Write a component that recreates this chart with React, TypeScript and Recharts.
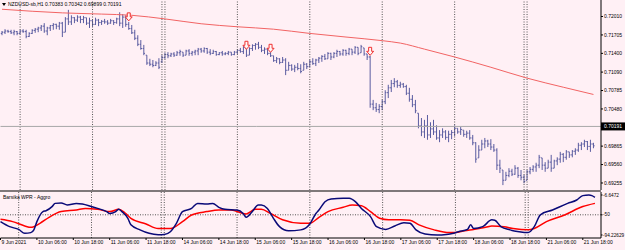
import React from "react";
import {
  ComposedChart,
  LineChart,
  Bar,
  Line,
  Scatter,
  XAxis,
  YAxis,
  ReferenceLine,
} from "recharts";

// NZDUSD H1 bars, prices in pips (x 0.0001)
const highs = [
  7177, 7180, 7179, 7179, 7179, 7177, 7179, 7180, 7179, 7175,
  7180, 7182, 7184, 7187, 7190, 7184, 7187, 7190, 7189, 7192,
  7192, 7200, 7212, 7203, 7200, 7203, 7202, 7202, 7199, 7199,
  7195, 7199, 7197, 7195, 7197, 7195, 7197, 7195, 7199, 7208,
  7205, 7203, 7192, 7187, 7179, 7170, 7162, 7154, 7137, 7131,
  7129, 7127, 7132, 7137, 7141, 7142, 7141, 7142, 7144, 7146,
  7142, 7146, 7147, 7144, 7146, 7149, 7149, 7150, 7149, 7147,
  7146, 7144, 7142, 7144, 7142, 7144, 7142, 7144, 7147, 7149,
  7152, 7149, 7150, 7155, 7157, 7159, 7154, 7150, 7149, 7142,
  7136, 7134, 7132, 7134, 7132, 7126, 7122, 7121, 7124, 7122,
  7126, 7124, 7129, 7132, 7131, 7134, 7137, 7139, 7142, 7141,
  7142, 7146, 7144, 7147, 7146, 7149, 7147, 7152, 7150, 7154,
  7149, 7139, 7136, 7063, 7058, 7056, 7063, 7079, 7088, 7096,
  7099, 7096, 7093, 7091, 7088, 7083, 7071, 7063, 7041, 7033,
  7030, 7038, 7026, 7030, 7021, 7013, 7016, 7013, 7012, 7013,
  7021, 7016, 7018, 7013, 7012, 7013, 7005, 6993, 6988, 6997,
  7000, 6997, 6998, 6990, 6983, 6964, 6947, 6944, 6950, 6949,
  6955, 6952, 6947, 6939, 6947, 6952, 6955, 6959, 6972, 6967,
  6960, 6964, 6972, 6964, 6968, 6977, 6975, 6980, 6977, 6980,
  6983, 6992, 6993, 6997, 6995, 6997, 6992,
];
const lows = [
  7170, 7172, 7174, 7172, 7170, 7170, 7172, 7174, 7165, 7167,
  7172, 7174, 7175, 7177, 7174, 7170, 7177, 7179, 7180, 7179,
  7167, 7175, 7187, 7187, 7190, 7192, 7190, 7190, 7187, 7182,
  7184, 7187, 7185, 7187, 7189, 7187, 7189, 7187, 7189, 7185,
  7182, 7184, 7179, 7172, 7162, 7152, 7146, 7137, 7121, 7119,
  7117, 7119, 7114, 7124, 7131, 7132, 7134, 7134, 7136, 7136,
  7134, 7137, 7136, 7136, 7137, 7137, 7141, 7141, 7139, 7137,
  7139, 7136, 7137, 7136, 7137, 7137, 7136, 7137, 7139, 7141,
  7139, 7134, 7137, 7144, 7146, 7147, 7142, 7139, 7137, 7134,
  7126, 7124, 7122, 7124, 7104, 7112, 7111, 7109, 7112, 7107,
  7112, 7114, 7117, 7121, 7119, 7124, 7126, 7129, 7131, 7129,
  7132, 7134, 7136, 7136, 7136, 7137, 7137, 7139, 7137, 7141,
  7136, 7129, 7050, 7046, 7043, 7041, 7046, 7056, 7066, 7076,
  7084, 7083, 7083, 7083, 7071, 7060, 7051, 7041, 7016, 7003,
  7000, 6997, 7000, 7005, 6997, 6993, 7000, 6997, 6993, 6998,
  7003, 7007, 7005, 7002, 7000, 6997, 6988, 6959, 6967, 6980,
  6983, 6985, 6980, 6977, 6947, 6942, 6922, 6930, 6935, 6937,
  6939, 6934, 6930, 6925, 6930, 6940, 6944, 6944, 6950, 6947,
  6944, 6950, 6944, 6950, 6955, 6959, 6960, 6964, 6967, 6968,
  6972, 6977, 6980, 6985, 6980, 6977, 6983,
];
const opens = [
  7173, 7175, 7177, 7176, 7174, 7176, 7173, 7177, 7176, 7168,
  7173, 7178, 7180, 7182, 7185, 7177, 7182, 7186, 7188, 7185,
  7190, 7175, 7197, 7192, 7199, 7195, 7200, 7196, 7199, 7190,
  7194, 7188, 7195, 7191, 7193, 7192, 7190, 7194, 7191, 7197,
  7190, 7200, 7188, 7181, 7174, 7165, 7155, 7148, 7137, 7124,
  7122, 7120, 7124, 7126, 7133, 7138, 7136, 7139, 7137, 7141,
  7142, 7137, 7144, 7140, 7142, 7144, 7147, 7144, 7148, 7142,
  7140, 7143, 7138, 7141, 7139, 7140, 7142, 7138, 7142, 7145,
  7143, 7149, 7137, 7148, 7153, 7155, 7150, 7145, 7147, 7140,
  7136, 7128, 7131, 7125, 7129, 7112, 7120, 7114, 7117, 7115,
  7112, 7122, 7118, 7126, 7123, 7129, 7132, 7135, 7131, 7140,
  7134, 7140, 7143, 7139, 7145, 7140, 7147, 7142, 7150, 7141,
  7149, 7139, 7134, 7056, 7050, 7047, 7052, 7060, 7075, 7083,
  7090, 7093, 7087, 7089, 7085, 7074, 7064, 7055, 7041, 7020,
  7010, 7020, 7005, 7015, 7010, 7000, 7005, 7010, 7001, 7006,
  7009, 7016, 7010, 7013, 7006, 7008, 7000, 6992, 6967, 6980,
  6990, 6995, 6990, 6985, 6980, 6955, 6947, 6930, 6938, 6945,
  6940, 6950, 6938, 6935, 6930, 6944, 6948, 6952, 6955, 6967,
  6955, 6950, 6960, 6950, 6962, 6965, 6973, 6968, 6977, 6972,
  6978, 6980, 6988, 6990, 6994, 6986, 6990,
];
const closes = [
  7175, 7177, 7176, 7174, 7176, 7173, 7177, 7176, 7168, 7173,
  7178, 7180, 7182, 7185, 7177, 7182, 7186, 7188, 7185, 7190,
  7175, 7197, 7192, 7199, 7195, 7200, 7196, 7199, 7190, 7194,
  7188, 7195, 7191, 7193, 7192, 7190, 7194, 7191, 7197, 7190,
  7200, 7188, 7181, 7174, 7165, 7155, 7148, 7140, 7124, 7122,
  7120, 7124, 7117, 7133, 7138, 7136, 7139, 7137, 7141, 7143,
  7137, 7144, 7140, 7142, 7144, 7147, 7144, 7148, 7142, 7140,
  7143, 7138, 7141, 7139, 7140, 7142, 7138, 7142, 7145, 7143,
  7150, 7137, 7148, 7153, 7155, 7150, 7145, 7147, 7140, 7136,
  7128, 7131, 7125, 7129, 7112, 7120, 7114, 7117, 7115, 7110,
  7122, 7118, 7126, 7123, 7129, 7132, 7135, 7131, 7140, 7134,
  7140, 7143, 7139, 7145, 7140, 7147, 7142, 7150, 7140, 7151,
  7139, 7134, 7056, 7050, 7047, 7052, 7060, 7075, 7083, 7090,
  7093, 7087, 7089, 7085, 7074, 7064, 7055, 7045, 7020, 7010,
  7020, 7005, 7015, 7010, 7000, 7005, 7010, 7001, 7006, 7009,
  7016, 7010, 7014, 7006, 7008, 7000, 6992, 6965, 6980, 6990,
  6995, 6990, 6985, 6980, 6955, 6950, 6930, 6938, 6945, 6940,
  6950, 6938, 6935, 6928, 6944, 6948, 6952, 6955, 6968, 6955,
  6950, 6960, 6950, 6962, 6965, 6973, 6968, 6977, 6972, 6978,
  6980, 6988, 6990, 6994, 6986, 6990, 6987,
];

// moving average, read at these bars
const maBars = [0, 20, 33, 43, 54, 66, 78, 90, 102, 114, 126, 132, 140, 150, 162, 174, 186, 196];
const maValues = [7213, 7207, 7205, 7203, 7197, 7189, 7184, 7180, 7173, 7167, 7161, 7157, 7147, 7134, 7117, 7099, 7084, 7072];

// signal arrows (top of arrow)
const arrowBars = [42, 81, 89, 122];
const arrowValues = [7207, 7160, 7155, 7150];

// Barsika WPR - Aggro, fast (navy) and slow (red)
const fastBars = [
  0, 3, 6, 8, 10, 11, 12, 14, 15, 17, 18, 20, 22, 25, 27, 30, 32, 35, 36, 38,
  39, 40, 42, 43, 46, 49, 52, 54, 56, 58, 60, 63, 65, 68, 70, 72, 74, 78, 80, 81,
  83, 85, 86, 88, 90, 92, 95, 99, 102, 104, 105, 107, 109, 113, 115, 117, 119, 122, 124, 127,
  130, 133, 135, 137, 140, 144, 147, 149, 151, 154, 155, 156, 159, 162, 163, 165, 168, 171, 174, 176,
  178, 182, 187, 190, 192, 194, 195, 196,
];
const fastValues = [
  -65, -76, -82, -90.6, -89, -83, -65, -43, -41, -32, -25, -24, -28.5, -25, -26.4, -32, -36, -43, -47, -43,
  -38, -43, -57.7, -72, -83, -90.6, -93.5, -93, -87, -68.6, -43, -36, -25, -26.4, -25, -33.6, -38, -39.5, -47, -55.5,
  -43, -28.5, -28.5, -36, -57.7, -76, -85, -83, -70, -47, -39.5, -21.3, -15.4, -14, -14, -21.3, -36, -54, -76, -82,
  -74.5, -67.3, -68.6, -83, -92, -94.22629, -93, -91, -87, -82, -72, -80, -76, -61, -62, -76, -83, -87, -89, -76,
  -50, -39.5, -25, -17.6, -8, -6.6472, -8, -12,
];
const slowBars = [
  0, 4, 8, 10, 13, 16, 20, 25, 28, 32, 36, 39, 41, 43, 48, 52, 56, 60, 63, 68,
  72, 76, 81, 84, 86, 89, 93, 99, 102, 105, 108, 113, 116, 119, 122, 125, 128, 132, 135, 138,
  143, 148, 150, 153, 156, 160, 162, 166, 169, 174, 176, 180, 186, 192, 196,
];
const slowValues = [
  -60, -65, -74.5, -77.5, -68.6, -55.5, -43, -39.5, -36, -38, -43, -38, -45.5, -57.7, -70, -80, -80, -65, -50.4, -43,
  -39.5, -39.5, -48, -38, -38, -47, -61, -68.6, -68.6, -55.5, -43, -33.6, -28.5, -30, -43, -57.7, -61, -61, -62, -72,
  -83, -89, -89, -85, -82, -77.5, -74.5, -76, -80, -83, -80, -65, -50.4, -32, -25,
];

// axes
const priceTicks = [0.7201, 0.71705, 0.714, 0.7109, 0.70785, 0.7048, 0.69865, 0.6956, 0.69255];
const currentPrice = 0.70191;
const wprTicks = [-6.6472, -50, -94.22629];
const wprLabels = ["-6.6472", "-50", "-94.22629"];
const dayStarts = [6, 30, 53, 54, 78, 102, 126, 150, 173, 174];
const timeBars = [0, 12, 24, 36, 48, 60, 72, 84, 96, 108, 120, 132, 144, 156, 168, 180, 192];
const timeLabels = [
  "9 Jun 2021", "10 Jun 06:00", "10 Jun 18:00", "11 Jun 06:00", "11 Jun 18:00",
  "14 Jun 06:00", "14 Jun 18:00", "15 Jun 06:00", "15 Jun 18:00", "16 Jun 06:00",
  "16 Jun 18:00", "17 Jun 06:00", "17 Jun 18:00", "18 Jun 06:00", "18 Jun 18:00",
  "21 Jun 06:00", "21 Jun 18:00",
];

const SLOTS = 199;
const BG = "#FFF0F5";
const BAR = "#5A5CA0";
const FONT = "'Liberation Sans', Arial, sans-serif";

const pick = (bars: number[], vals: number[], i: number) => {
  const k = bars.indexOf(i);
  return k < 0 ? null : vals[k];
};

const rows = Array.from({ length: SLOTS }, (_, i) => {
  const has = i < highs.length;
  const ma = pick(maBars, maValues, i);
  const ar = pick(arrowBars, arrowValues, i);
  return {
    i,
    range: has ? [lows[i] / 1e4, highs[i] / 1e4] : null,
    high: has ? highs[i] / 1e4 : null,
    low: has ? lows[i] / 1e4 : null,
    open: has ? opens[i] / 1e4 : null,
    close: has ? closes[i] / 1e4 : null,
    ma: ma == null ? null : ma / 1e4,
    arrow: ar == null ? null : ar / 1e4,
    fast: pick(fastBars, fastValues, i),
    slow: pick(slowBars, slowValues, i),
  };
});

const OhlcBar = (props: any) => {
  const { x, y, width, height, payload } = props;
  if (!payload || payload.high == null || !isFinite(y)) return <g />;
  const top = Math.min(y, y + height);
  const bot = Math.max(y, y + height);
  const span = payload.high - payload.low;
  const k = span > 0 ? (bot - top) / span : 0;
  const yo = top + (payload.high - payload.open) * k;
  const yc = top + (payload.high - payload.close) * k;
  const cx = x + width / 2;
  return (
    <g stroke={BAR} strokeWidth={1}>
      <line x1={cx} x2={cx} y1={top} y2={bot} />
      <line x1={cx - 1.2} x2={cx} y1={yo} y2={yo} />
      <line x1={cx} x2={cx + 1.2} y1={yc} y2={yc} />
    </g>
  );
};

const ArrowMark = (props: any) => {
  const { cx, cy, payload } = props;
  if (!payload || payload.arrow == null || !isFinite(cy)) return <g />;
  const d = `M${cx - 1.5},${cy} L${cx + 1.5},${cy} L${cx + 1.5},${cy + 4} L${cx + 3.5},${cy + 4} L${cx},${cy + 8} L${cx - 3.5},${cy + 4} L${cx - 1.5},${cy + 4} Z`;
  return <path d={d} fill="#FFF6F6" stroke="#F03030" strokeWidth={1} />;
};

const PriceBox = (props: any) => {
  const vb = props.viewBox;
  if (!vb) return null;
  const x = vb.x + vb.width;
  return (
    <g>
      <rect x={x} y={vb.y - 4} width={24} height={8} fill="#000" />
      <text x={x + 3} y={vb.y + 1.8} fontSize={5} fill="#fff" fontFamily={FONT}>
        {currentPrice.toFixed(5)}
      </text>
    </g>
  );
};

const TimeTick = (props: any) => {
  const { x, y, payload } = props;
  const k = timeBars.indexOf(payload.value);
  if (k < 0) return <g />;
  return (
    <text x={x + 1} y={y + 4} fontSize={5} fill="#000" fontFamily={FONT}>
      {timeLabels[k]}
    </text>
  );
};

const sep = { stroke: "#555", strokeDasharray: "1 1.5", strokeWidth: 1 };

export default function App() {
  return (
    <div style={{ position: "absolute", left: 0, top: 0, width: 625, height: 250, background: BG }}>
      <div style={{ position: "absolute", left: 0, top: 0 }}>
        <ComposedChart width={625} height={191} data={rows} margin={{ top: 0, right: 0, left: 0.5, bottom: 1 }}>
          <XAxis dataKey="i" hide />
          <YAxis
            orientation="right"
            width={24}
            domain={[0.69139, 0.72283]}
            allowDataOverflow
            ticks={priceTicks}
            interval={0}
            tickFormatter={(v: number) => v.toFixed(5)}
            tick={{ fontSize: 5, fill: "#000", fontFamily: FONT }}
            tickSize={2}
            tickMargin={1}
            axisLine={{ stroke: "#000" }}
            tickLine={{ stroke: "#000" }}
          />
          {dayStarts.map((d) => (
            <ReferenceLine key={"d" + d} x={d} {...sep} />
          ))}
          <ReferenceLine y={currentPrice} stroke="#A8A8A8" strokeWidth={1} label={<PriceBox />} />
          <Line type="monotone" dataKey="ma" stroke="#F26464" strokeWidth={1} dot={false} connectNulls isAnimationActive={false} />
          <Bar dataKey="range" barSize={1} shape={<OhlcBar />} isAnimationActive={false} />
          <Scatter dataKey="arrow" shape={<ArrowMark />} isAnimationActive={false} />
        </ComposedChart>
      </div>
      <div style={{ position: "absolute", left: 0, top: 191 }}>
        <LineChart width={625} height={59} data={rows} margin={{ top: 1, right: 0, left: 0.5, bottom: 0 }}>
          <XAxis
            dataKey="i"
            ticks={timeBars}
            interval={0}
            height={12}
            tick={<TimeTick />}
            tickSize={2}
            tickMargin={0}
            axisLine={{ stroke: "#000" }}
            tickLine={{ stroke: "#000" }}
          />
          <YAxis
            orientation="right"
            width={24}
            domain={[-100.8, -0.08]}
            allowDataOverflow
            ticks={wprTicks}
            interval={0}
            tickFormatter={(v: number) => wprLabels[wprTicks.indexOf(v)] ?? String(v)}
            tick={{ fontSize: 4.7, fill: "#000", fontFamily: FONT }}
            tickSize={1.5}
            tickMargin={0.5}
            axisLine={{ stroke: "#000" }}
            tickLine={{ stroke: "#000" }}
          />
          {dayStarts.map((d) => (
            <ReferenceLine key={"s" + d} x={d} {...sep} />
          ))}
          <ReferenceLine y={-50} {...sep} />
          <Line type="monotone" dataKey="slow" stroke="#FF0000" strokeWidth={1.5} dot={false} connectNulls isAnimationActive={false} />
          <Line type="monotone" dataKey="fast" stroke="#0A0A78" strokeWidth={1.5} dot={false} connectNulls isAnimationActive={false} />
        </LineChart>
      </div>
      <svg width={625} height={250} style={{ position: "absolute", left: 0, top: 0, pointerEvents: "none" }}>
        <line x1={0} x2={601} y1={191} y2={191} stroke="#000" strokeWidth={1.2} />
        <path d="M2,3 L6,3 L4,6 Z" fill="#000" />
        <text x={8} y={6.2} fontSize={5} fill="#000" fontFamily={FONT}>
          NZDUSD-sb,H1  0.70383 0.70342 0.69899 0.70191
        </text>
        <text x={3} y={199} fontSize={5} fill="#000" fontFamily={FONT}>
          Barsika WPR - Aggro
        </text>
      </svg>
    </div>
  );
}
